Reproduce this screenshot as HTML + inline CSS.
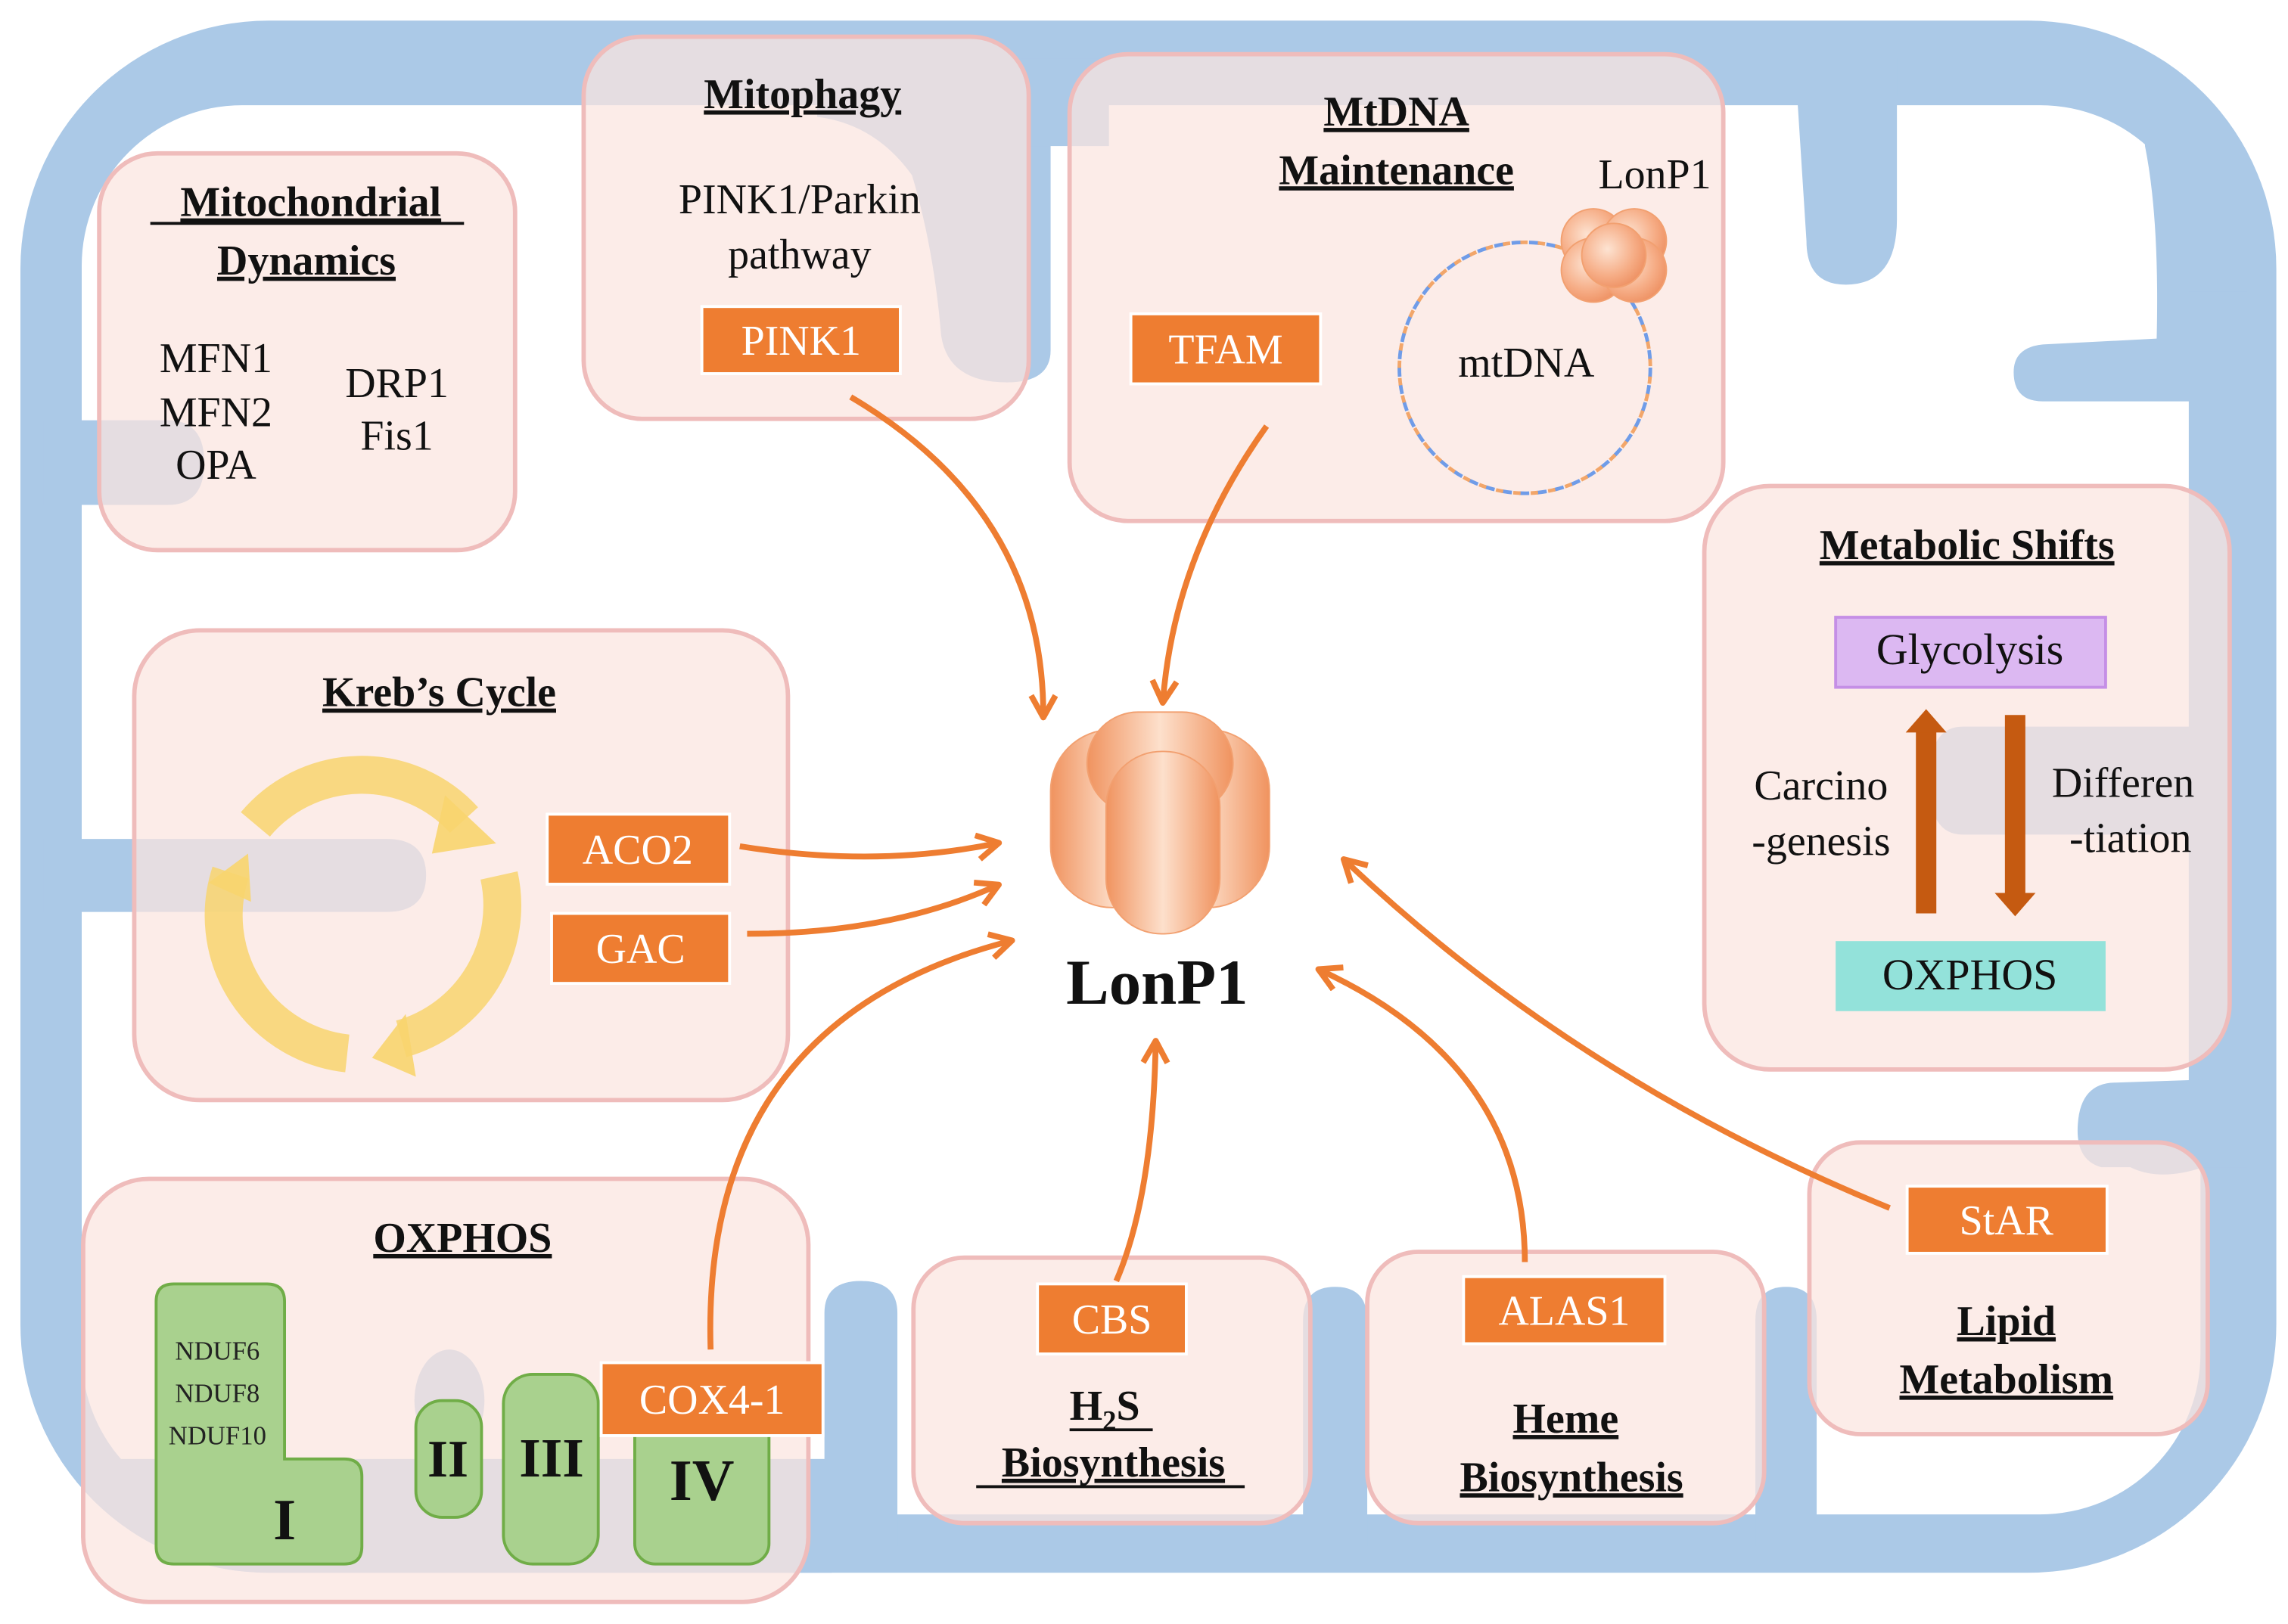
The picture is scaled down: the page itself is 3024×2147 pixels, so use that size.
<!DOCTYPE html>
<html><head><meta charset="utf-8"><style>
html,body{margin:0;padding:0;background:#fff;}
svg{display:block;}
text{font-family:"Liberation Serif",serif;}
</style></head><body>
<svg width="3024" height="2147" viewBox="0 0 1568 1113" xmlns="http://www.w3.org/2000/svg">
<defs>
<marker id="ah" viewBox="0 0 12 12" refX="9" refY="6" markerWidth="5" markerHeight="5" orient="auto-start-reverse">
<path d="M1,1 L10,6 L1,11" fill="none" stroke="#ee7d31" stroke-width="2.4" stroke-linejoin="round"/>
</marker>
<radialGradient id="og" cx="40%" cy="40%" r="70%">
<stop offset="0" stop-color="#fde3d2"/><stop offset="0.6" stop-color="#f6ad86"/><stop offset="1" stop-color="#ec8a5a"/>
</radialGradient>
<linearGradient id="bar" x1="0" x2="1">
<stop offset="0" stop-color="#f0935f"/><stop offset="0.5" stop-color="#fde0cc"/><stop offset="1" stop-color="#f0935f"/>
</linearGradient>
<clipPath id="mc"><rect x="14" y="14" width="1546" height="1064" rx="170"/></clipPath>
</defs>
<!-- mitochondrion -->
<rect x="14" y="14" width="1546" height="1064" rx="170" fill="#abc9e7"/>
<rect x="56" y="72" width="1452" height="966" rx="110" fill="#fff"/>
<g fill="#abc9e7" clip-path="url(#mc)">
<path d="M560 40 H720 V240 Q720 262 690 262 Q650 262 645 230 Q640 170 625 120 Q600 85 560 80 Z"/>
<rect x="700" y="40" width="60" height="60"/>
<path d="M1230 40 H1300 V150 Q1300 195 1265 195 Q1238 195 1238 165 Z"/>
<path d="M1470 40 H1540 V275 H1400 Q1380 275 1380 255 Q1380 238 1400 236 L1478 232 Q1480 150 1470 100 Z"/>
<rect x="1500" y="200" width="40" height="600"/>
<path d="M1510 498 V572 H1345 Q1322 572 1322 535 Q1322 498 1345 498 Z"/>
<path d="M1510 740 V800 Q1480 810 1460 800 L1440 800 Q1422 795 1424 770 Q1426 742 1450 742 Z"/>
<path d="M30 288 H115 Q140 288 140 317 Q140 346 115 346 H30 Z"/>
<path d="M30 575 H265 Q292 575 292 600 Q292 625 265 625 H30 Z"/>
<path d="M565 1060 V900 Q565 878 590 878 Q615 878 615 900 V1060 Z"/>
<path d="M893 1060 V905 Q893 882 915 882 Q937 882 937 905 V1060 Z"/>
<path d="M1203 1060 V905 Q1203 882 1224 882 Q1245 882 1245 905 V1060 Z"/>
<rect x="20" y="1000" width="550" height="80"/>
<ellipse cx="308" cy="960" rx="24" ry="35"/>
</g>
<!-- boxes -->
<g fill="#fbe4df" fill-opacity="0.72" stroke="#efbcbb" stroke-width="3">
<rect x="68" y="105" width="285" height="272" rx="40"/>
<rect x="400" y="25" width="305" height="262" rx="40"/>
<rect x="733" y="37" width="448" height="320" rx="40"/>
<rect x="1168" y="333" width="360" height="400" rx="45"/>
<rect x="92" y="432" width="448" height="322" rx="45"/>
<rect x="57" y="808" width="497" height="290" rx="45"/>
<rect x="626" y="862" width="272" height="182" rx="35"/>
<rect x="937" y="858" width="272" height="186" rx="35"/>
<rect x="1240" y="783" width="273" height="200" rx="35"/>
</g>
<!-- titles -->
<g font-weight="bold" font-size="29" text-anchor="middle" fill="#111" text-decoration="underline">
<text x="213" y="148">Mitochondrial</text>
<text x="210" y="188">Dynamics</text>
<text x="550" y="74">Mitophagy</text>
<text x="957" y="86">MtDNA</text>
<text x="957" y="126">Maintenance</text>
<text x="1348" y="383">Metabolic Shifts</text>
<text x="301" y="484">Kreb’s Cycle</text>
<text x="317" y="858">OXPHOS</text>
<text x="1375" y="915">Lipid</text>
<text x="1375" y="955">Metabolism</text>
<text x="1073" y="982">Heme</text>
<text x="1077" y="1022">Biosynthesis</text>
<text x="763" y="1012">Biosynthesis</text>
</g>
<g stroke="#111" stroke-width="2"><line x1="103" y1="153" x2="318" y2="153"/><line x1="669" y1="1019" x2="853" y2="1019"/><line x1="733" y1="980" x2="790" y2="980"/></g>
<text x="733" y="973" font-weight="bold" font-size="29" fill="#111">H<tspan font-size="19" dy="7">2</tspan><tspan dy="-7">S</tspan></text>
<g font-size="29" fill="#111" text-anchor="middle">
<text x="148" y="255">MFN1</text><text x="148" y="292">MFN2</text><text x="148" y="328">OPA</text>
<text x="272" y="272">DRP1</text><text x="272" y="308">Fis1</text>
<text x="548" y="146">PINK1/Parkin</text><text x="548" y="184">pathway</text>
<text x="1134" y="129">LonP1</text>
<text x="1046" y="258">mtDNA</text>
<text x="1248" y="548">Carcino</text><text x="1248" y="586">-genesis</text>
<text x="1455" y="546">Differen</text><text x="1460" y="584">-tiation</text>
</g>
<g fill="#ee7d31" stroke="#fff" stroke-width="2">
<rect x="481" y="210" width="136" height="46"/>
<rect x="775" y="215" width="130" height="48"/>
<rect x="375" y="558" width="125" height="48"/>
<rect x="378" y="626" width="122" height="48"/>
<rect x="711" y="880" width="102" height="48"/>
<rect x="1003" y="875" width="138" height="46"/>
<rect x="1307" y="813" width="137" height="46"/>
</g>
<rect x="1258" y="423" width="185" height="48" fill="#dcb8f2" stroke="#c58fe6" stroke-width="2"/>
<rect x="1258" y="645" width="185" height="48" fill="#93e2da"/>
<text x="1350" y="455" font-size="30" text-anchor="middle" fill="#111">Glycolysis</text>
<text x="1350" y="678" font-size="30" text-anchor="middle" fill="#111">OXPHOS</text>
<g fill="#c55a11">
<rect x="1313" y="500" width="14" height="126"/><polygon points="1306,502 1320,486 1334,502"/>
<rect x="1374" y="490" width="14" height="124"/><polygon points="1367,612 1381,628 1395,612"/>
</g>
<g fill="#a9d18e" stroke="#70ad47" stroke-width="2">
<path d="M119 880 H183 Q195 880 195 892 V1000 H236 Q248 1000 248 1012 V1060 Q248 1072 236 1072 H119 Q107 1072 107 1060 V892 Q107 880 119 880 Z"/>
<rect x="285" y="960" width="45" height="80" rx="18"/>
<rect x="345" y="942" width="65" height="130" rx="20"/>
<rect x="435" y="965" width="92" height="107" rx="14"/>
</g>
<rect x="412" y="934" width="152" height="50" fill="#ee7d31" stroke="#fff" stroke-width="2"/>
<g fill="#fff" font-size="29" text-anchor="middle">
<text x="549" y="243">PINK1</text><text x="840" y="249">TFAM</text>
<text x="437" y="592">ACO2</text><text x="439" y="660">GAC</text>
<text x="488" y="969">COX4-1</text><text x="762" y="914">CBS</text>
<text x="1072" y="908">ALAS1</text><text x="1375" y="846">StAR</text>
</g>
<g font-size="18" fill="#222" text-anchor="middle">
<text x="149" y="932">NDUF6</text><text x="149" y="961">NDUF8</text><text x="149" y="990">NDUF10</text>
</g>
<g font-weight="bold" fill="#111" text-anchor="middle">
<text x="195" y="1055" font-size="40">I</text>
<text x="307" y="1012" font-size="36">II</text>
<text x="378" y="1012" font-size="38">III</text>
<text x="481" y="1028" font-size="40">IV</text>
</g>
<g fill="none" stroke="#f8d56e" stroke-width="26" stroke-opacity="0.85">
<path d="M175 565 A95 95 0 0 1 318 562"/>
<path d="M342 600 A95 95 0 0 1 275 712"/>
<path d="M238 722 A95 95 0 0 1 158 598"/>
</g>
<g fill="#f8d56e" fill-opacity="0.9">
<polygon points="305,545 340,578 296,585"/>
<polygon points="278,695 255,725 285,738"/>
<polygon points="143,605 170,585 172,618"/>
</g>
<circle cx="1045" cy="252" r="86" fill="none" stroke="#6f9ce8" stroke-width="2.5" stroke-dasharray="7 5"/>
<circle cx="1045" cy="252" r="86" fill="none" stroke="#f2a66a" stroke-width="2.5" stroke-dasharray="5 7" stroke-dashoffset="6"/>
<g fill="url(#og)" stroke="#f2a070" stroke-width="1">
<circle cx="1092" cy="165" r="22"/><circle cx="1120" cy="165" r="22"/><circle cx="1092" cy="185" r="22"/><circle cx="1120" cy="185" r="22"/><circle cx="1106" cy="175" r="22"/>
</g>
<g stroke="#f2a070" stroke-width="1">
<rect x="720" y="500" width="90" height="122" rx="42" fill="url(#bar)"/>
<rect x="778" y="500" width="92" height="122" rx="42" fill="url(#bar)"/>
<rect x="745" y="488" width="100" height="70" rx="35" fill="url(#bar)"/>
<rect x="758" y="515" width="78" height="125" rx="38" fill="url(#bar)"/>
</g>
<text x="793" y="688" font-size="44" font-weight="bold" text-anchor="middle" fill="#111">LonP1</text>
<g fill="none" stroke="#ee7d31" stroke-width="4" marker-end="url(#ah)">
<path d="M583 272 Q715 350 715 490"/>
<path d="M868 292 Q805 380 797 480"/>
<path d="M507 580 Q600 595 683 578"/>
<path d="M512 640 Q610 640 683 607"/>
<path d="M487 925 Q480 700 692 645"/>
<path d="M765 878 Q790 820 792 715"/>
<path d="M1045 865 Q1045 730 905 665"/>
<path d="M1295 828 Q1080 740 922 590"/>
</g>
</svg>
</body></html>
